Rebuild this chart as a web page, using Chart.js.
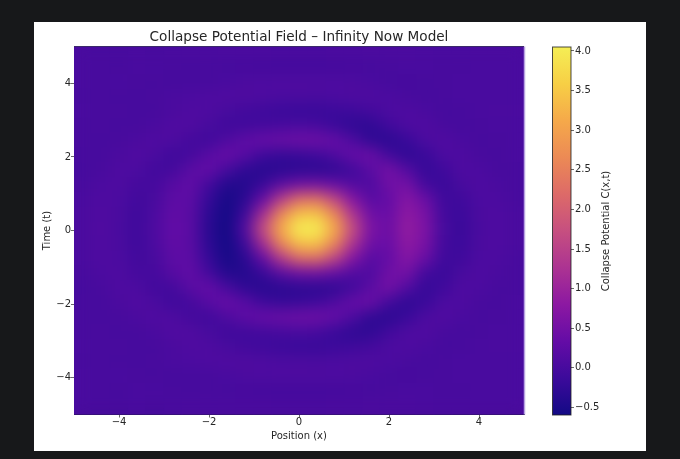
<!DOCTYPE html>
<html>
<head>
<meta charset="utf-8">
<title>Collapse Potential Field</title>
<script src="https://cdn.jsdelivr.net/npm/chart.js@4"></script>
<style>
html,body{margin:0;padding:0;background:#17181a;width:680px;height:459px;overflow:hidden}
#card{position:absolute;left:34px;top:22px;width:612px;height:429px;background:#fff}
#field{position:absolute;left:0;top:0}
#bar{position:absolute;left:506px;top:0}
</style>
</head>
<body>
<div id="card">
<canvas id="field" width="506" height="429"></canvas>
<canvas id="bar" width="106" height="429"></canvas>
</div>
<script>
var titleText = "Collapse Potential Field \u2013 Infinity Now Model";
var xLabel = "Position (x)";
var yLabel = "Time (t)";
var barLabel = "Collapse Potential C(x,t)";
var xTicks = [-4,-2,0,2,4];
var yTicks = [-4,-2,0,2,4];
var barTicks = [-0.5,0,0.5,1,1.5,2,2.5,3,3.5,4];
var barRange = [-0.595,4.05];
var positions = [-4.8,-4.4,-4,-3.6,-3.2,-2.8,-2.4,-2,-1.6,-1.2,-.8,-.4,0,.4,.8,1.2,1.6,2,2.4,2.8,3.2,3.6,4,4.4,4.8];
var times = [4.8,4.4,4,3.6,3.2,2.8,2.4,2,1.6,1.2,.8,.4,0,-.4,-.8,-1.2,-1.6,-2,-2.4,-2.8,-3.2,-3.6,-4,-4.4,-4.8];
var potential = [
[.02,.01,.01,.02,.01,.02,.03,.03,.04,.04,.04,.03,.03,.03,.04,.04,.05,.04,.04,.03,.02,.02,.03,.03,.03],
[.02,.01,0,.02,.02,.01,0,.01,-.01,-.02,-.03,-.04,-.04,-.04,-.03,-.02,-.01,.01,.02,.02,.01,.01,.02,.02,.02],
[.02,.01,.02,.01,0,-.01,-.01,0,.02,.05,.07,.08,.08,.08,.07,.05,.02,-.01,-.02,0,.01,.02,.02,.02,.02],
[.01,.01,0,0,.01,.04,.06,.08,.09,.09,.08,.06,.05,.04,.06,.08,.08,.06,.01,-.01,.01,.02,.02,.02,.02],
[.02,.01,.01,0,0,.04,.08,.08,.01,-.05,-.1,-.14,-.16,-.16,-.13,-.09,-.03,.06,.08,.03,-.01,0,.02,.03,.03],
[.01,.01,0,0,.03,.1,.1,.01,-.08,-.08,-.05,-.02,.02,-.02,-.16,-.28,-.28,-.06,.08,.1,.01,-.01,.01,.02,.02],
[.01,0,.01,.04,.1,.08,-.04,-.08,.08,.27,.38,.42,.46,.46,.36,.08,-.28,-.32,-.16,.06,.1,.03,0,.01,.02],
[0,0,.04,.1,.04,-.1,-.03,.2,.37,.2,-.1,-.2,-.18,-.1,.1,.36,.42,-.05,-.28,-.16,.06,.08,.01,0,.02],
[-.01,.01,.08,.06,-.06,-.04,.22,.33,0,-.28,-.36,-.32,-.3,-.3,-.28,-.08,.22,.52,.15,-.2,-.1,.08,.06,0,.01],
[.01,.06,.08,-.02,-.02,.18,.3,-.04,-.4,-.4,-.18,.22,.45,.5,.36,.12,.08,.46,.52,-.04,-.16,.01,.08,.03,.01],
[.03,.08,.06,-.06,.01,.25,.24,-.2,-.55,-.32,.34,1.4,2.2,2.3,1.6,.7,.2,.32,.72,.42,-.08,-.1,.06,.06,.01],
[.04,.09,.04,-.09,.06,.3,.22,-.3,-.58,-.12,1.15,2.6,3.4,3.45,2.6,1.3,.45,.38,.82,.58,-.04,-.14,.04,.08,.03],
[.04,.1,.03,-.09,.08,.32,.22,-.32,-.6,.12,1.7,3.1,4.05,4.05,3.1,1.7,.6,.42,.88,.62,.01,-.16,.03,.08,.03],
[.04,.09,.04,-.09,.06,.3,.22,-.3,-.58,-.12,1.15,2.6,3.4,3.45,2.6,1.3,.45,.38,.82,.58,-.04,-.14,.04,.08,.03],
[.03,.08,.06,-.06,.01,.25,.24,-.2,-.55,-.32,.34,1.4,2.2,2.3,1.6,.7,.2,.32,.72,.42,-.08,-.1,.06,.06,.01],
[.01,.06,.08,-.02,-.02,.18,.3,-.04,-.4,-.4,-.18,.22,.45,.5,.36,.12,.08,.46,.52,-.04,-.16,.01,.08,.03,.01],
[-.01,.01,.08,.06,-.06,-.04,.22,.33,0,-.28,-.36,-.32,-.3,-.3,-.28,-.08,.22,.52,.15,-.2,-.1,.08,.06,0,.01],
[0,0,.04,.1,.04,-.1,-.03,.2,.37,.2,-.1,-.2,-.18,-.1,.1,.36,.42,-.05,-.28,-.16,.06,.08,.01,0,.02],
[.01,0,.01,.04,.1,.08,-.04,-.08,.08,.27,.38,.42,.46,.46,.36,.08,-.28,-.32,-.16,.06,.1,.03,0,.01,.02],
[.01,.01,0,0,.03,.1,.1,.01,-.08,-.08,-.05,-.02,.02,-.02,-.16,-.28,-.28,-.06,.08,.1,.01,-.01,.01,.02,.02],
[.02,.01,.01,0,0,.04,.08,.08,.01,-.05,-.1,-.14,-.16,-.16,-.13,-.09,-.03,.06,.08,.03,-.01,0,.02,.03,.03],
[.01,.01,0,0,.01,.04,.06,.08,.09,.09,.08,.06,.05,.04,.06,.08,.08,.06,.01,-.01,.01,.02,.02,.02,.02],
[.02,.01,.02,.01,0,-.01,-.01,0,.02,.05,.07,.08,.08,.08,.07,.05,.02,-.01,-.02,0,.01,.02,.02,.02,.02],
[.02,.01,0,.02,.02,.01,0,.01,-.01,-.02,-.03,-.04,-.04,-.04,-.03,-.02,-.01,.01,.02,.02,.01,.01,.02,.02,.02],
[.02,.01,.01,.02,.01,.02,.03,.03,.04,.04,.04,.03,.03,.03,.04,.04,.05,.04,.04,.03,.02,.02,.03,.03,.03]
];
var plasma = [[19,10,133],[60,10,155],[100,12,166],[140,24,162],[172,51,146],[198,79,128],[221,106,104],[236,138,85],[245,169,74],[247,207,69],[245,238,85]];

var font = "'DejaVu Sans'";
var ink = "#262626";

function minus(v){ return String(v).replace("-","\u2212"); }

function colorAt(v){
    var f = (v-barRange[0])/(barRange[1]-barRange[0]);
    f = Math.max(0,Math.min(1,f))*(plasma.length-1);
    var i = Math.min(plasma.length-2,Math.floor(f));
    var k = f-i, a = plasma[i], b = plasma[i+1];
    return "rgb("+Math.round(a[0]+(b[0]-a[0])*k)+","+Math.round(a[1]+(b[1]-a[1])*k)+","+Math.round(a[2]+(b[2]-a[2])*k)+")";
}

var cells = [];
for (var r = 0; r < times.length; r++) {
    for (var c = 0; c < positions.length; c++) {
        cells.push({x:positions[c],y:times[r],v:potential[r][c]});
    }
}

// imshow-like smoothing: blur what the dataset just drew, then add the frame
var smoothField = {
    id:"smoothField",
    afterDatasetsDraw:function(chart){
        var a = chart.chartArea, ctx = chart.ctx, dpr = chart.currentDevicePixelRatio;
        var w = a.right-a.left, h = a.bottom-a.top;
        ctx.save();
        ctx.beginPath();
        ctx.rect(a.left,a.top,w,h);
        ctx.clip();
        ctx.filter = "blur(7.5px)";
        ctx.drawImage(chart.canvas,a.left*dpr,a.top*dpr,w*dpr,h*dpr,a.left,a.top,w,h);
        ctx.restore();
        ctx.save();
        ctx.lineWidth = 1.5;
        ctx.strokeStyle = "#b9a2e2";
        ctx.beginPath();
        ctx.moveTo(a.right+.5,a.top);
        ctx.lineTo(a.right+.5,a.bottom);
        ctx.stroke();
        ctx.lineWidth = 1;
        ctx.strokeStyle = "#3a2a6a";
        ctx.beginPath();
        ctx.moveTo(a.left,a.top);
        ctx.lineTo(a.right,a.top);
        ctx.stroke();
        ctx.restore();
    }
};

var barTitle = {
    id:"barTitle",
    afterDraw:function(chart){
        var ctx = chart.ctx, a = chart.chartArea;
        ctx.save();
        ctx.translate(66.5,(a.top+a.bottom)/2);
        ctx.rotate(-Math.PI/2);
        ctx.font = "10px "+font;
        ctx.fillStyle = ink;
        ctx.textAlign = "center";
        ctx.textBaseline = "middle";
        ctx.fillText(barLabel,0,0);
        ctx.restore();
    }
};

new Chart(document.getElementById("field"),{
    type:"scatter",
    data:{datasets:[{
        data:cells,
        pointStyle:"rect",
        pointRadius:13.2,
        pointBorderWidth:0,
        pointHoverRadius:13.2,
        backgroundColor:function(ctx){ return ctx.raw ? colorAt(ctx.raw.v) : "#000"; }
    }]},
    plugins:[smoothField],
    options:{
        responsive:false,
        animation:false,
        events:[],
        layout:{padding:{left:0,right:16,top:0,bottom:0}},
        plugins:{
            legend:{display:false},
            tooltip:{enabled:false},
            title:{display:true,fullSize:false,text:titleText,color:ink,font:{family:font,size:13.6,weight:"normal"},padding:{top:7,bottom:1.2}}
        },
        scales:{
            x:{
                type:"linear",min:-5,max:5,
                afterBuildTicks:function(s){ s.ticks = xTicks.map(function(v){ return {value:v}; }); },
                afterFit:function(s){ s.height = 36.5; },
                grid:{drawOnChartArea:false,tickLength:3,tickColor:"#444",tickWidth:.8},
                border:{color:"#1b1b3a",width:1},
                ticks:{color:ink,font:{family:font,size:10},padding:-1,maxRotation:0,autoSkip:false,callback:function(v){ return minus(v); }},
                title:{display:true,text:xLabel,color:ink,font:{family:font,size:10},padding:{top:0,bottom:9}}
            },
            y:{
                type:"linear",min:-5,max:5,
                afterBuildTicks:function(s){ s.ticks = yTicks.map(function(v){ return {value:v}; }); },
                afterFit:function(s){ s.width = 40; },
                grid:{drawOnChartArea:false,tickLength:3,tickColor:"#444",tickWidth:.8},
                border:{color:"#1b1b3a",width:1},
                ticks:{color:ink,font:{family:font,size:10},padding:0,autoSkip:false,callback:function(v){ return minus(v); }},
                title:{display:true,text:yLabel,color:ink,font:{family:font,size:10},padding:{top:7,bottom:0}}
            }
        }
    }
});

new Chart(document.getElementById("bar"),{
    type:"bar",
    data:{labels:[barLabel],datasets:[{
        data:[barRange],
        barPercentage:1,
        categoryPercentage:1,
        borderWidth:0,
        backgroundColor:function(ctx){
            var a = ctx.chart.chartArea;
            if (!a) return "#000";
            var g = ctx.chart.ctx.createLinearGradient(0,a.bottom,0,a.top);
            plasma.forEach(function(p,i){ g.addColorStop(i/(plasma.length-1),"rgb("+p.join(",")+")"); });
            return g;
        }
    }]},
    plugins:[barTitle,{
        id:"barFrame",
        afterDatasetsDraw:function(chart){
            var a = chart.chartArea, ctx = chart.ctx;
            ctx.save();
            ctx.strokeStyle = "rgba(30,30,30,.8)";
            ctx.lineWidth = 1;
            ctx.strokeRect(a.left,a.top,a.right-a.left,a.bottom-a.top);
            ctx.restore();
        }
    }],
    options:{
        responsive:false,
        animation:false,
        events:[],
        layout:{padding:{left:12.5,right:0,top:25,bottom:36}},
        plugins:{legend:{display:false},tooltip:{enabled:false},title:{display:false}},
        scales:{
            x:{display:false},
            y:{
                position:"right",min:barRange[0],max:barRange[1],
                afterBuildTicks:function(s){ s.ticks = barTicks.map(function(v){ return {value:v}; }); },
                afterFit:function(s){ s.width = 75; },
                grid:{drawOnChartArea:false,tickLength:3,tickColor:"#444",tickWidth:.8},
                border:{display:false},
                ticks:{color:ink,font:{family:font,size:10},padding:1,autoSkip:false,callback:function(v){ return minus(v.toFixed(1)); }}
            }
        }
    }
});
</script>
</body>
</html>
